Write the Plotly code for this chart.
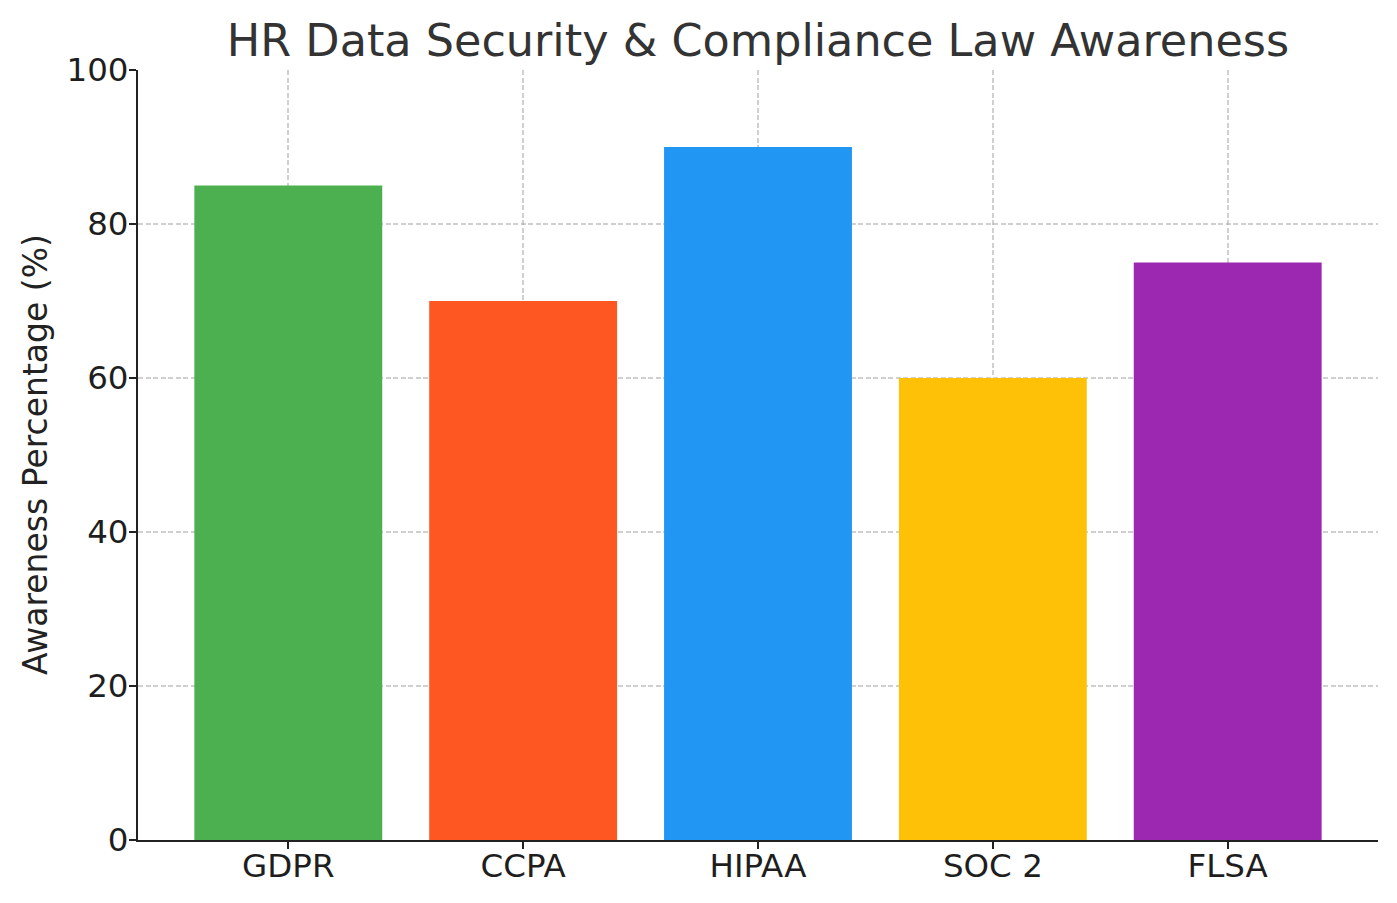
import plotly.graph_objects as go

laws = ["GDPR", "CCPA", "HIPAA", "SOC 2", "FLSA"]
awareness = [85, 70, 90, 60, 75]
colors = ["#4CAF50", "#FF5722", "#2196F3", "#FFC107", "#9C27B0"]

fig = go.Figure()
fig.add_trace(go.Bar(x=list(range(len(laws))), y=awareness, marker=dict(color=colors, line=dict(width=0)),
                     width=0.8))

font_family = "DejaVu Sans"
fig.update_layout(
    width=1397, height=903,
    margin=dict(l=138, r=19, t=70, b=63, autoexpand=False),
    plot_bgcolor="white", paper_bgcolor="white",
    showlegend=False,
    title=dict(text="HR Data Security & Compliance Law Awareness", x=0.5, xref="paper",
               y=1 - 40/903, yref="container", xanchor="center", yanchor="middle",
               font=dict(family=font_family, size=44.5, color="#333333")),
    font=dict(family=font_family, color="#222222"),
)
fig.add_annotation(text="Awareness Percentage (%)", xref="paper", yref="paper",
                   x=(35 - 138) / 1240, y=0.5, xanchor="center", yanchor="middle",
                   textangle=-90, showarrow=False,
                   font=dict(family=font_family, size=33, color="#222222"))
grid = dict(showgrid=True, gridcolor="rgba(170,170,170,0.55)", griddash="5px,2.5px", gridwidth=1.6,
            layer="above traces")
fig.update_xaxes(range=[-0.64, 4.64], tickmode="array", tickvals=list(range(len(laws))), ticktext=laws,
                 showline=True, linecolor="#222222", linewidth=2, ticks="outside", ticklen=7,
                 tickwidth=2, tickcolor="#222222", tickfont=dict(size=32.5, color="#1e1e1e"),
                 zeroline=False, automargin=False, ticklabelstandoff=-11, **grid)
fig.update_yaxes(range=[0, 100], tickvals=[0, 20, 40, 60, 80, 100],
                 showline=True, linecolor="#222222", linewidth=2, ticks="outside", ticklen=7,
                 tickwidth=2, tickcolor="#222222", tickfont=dict(size=32.5, color="#1e1e1e"),
                 zeroline=False, automargin=False, ticklabelstandoff=-6, **grid)

fig.write_html("out.html")
